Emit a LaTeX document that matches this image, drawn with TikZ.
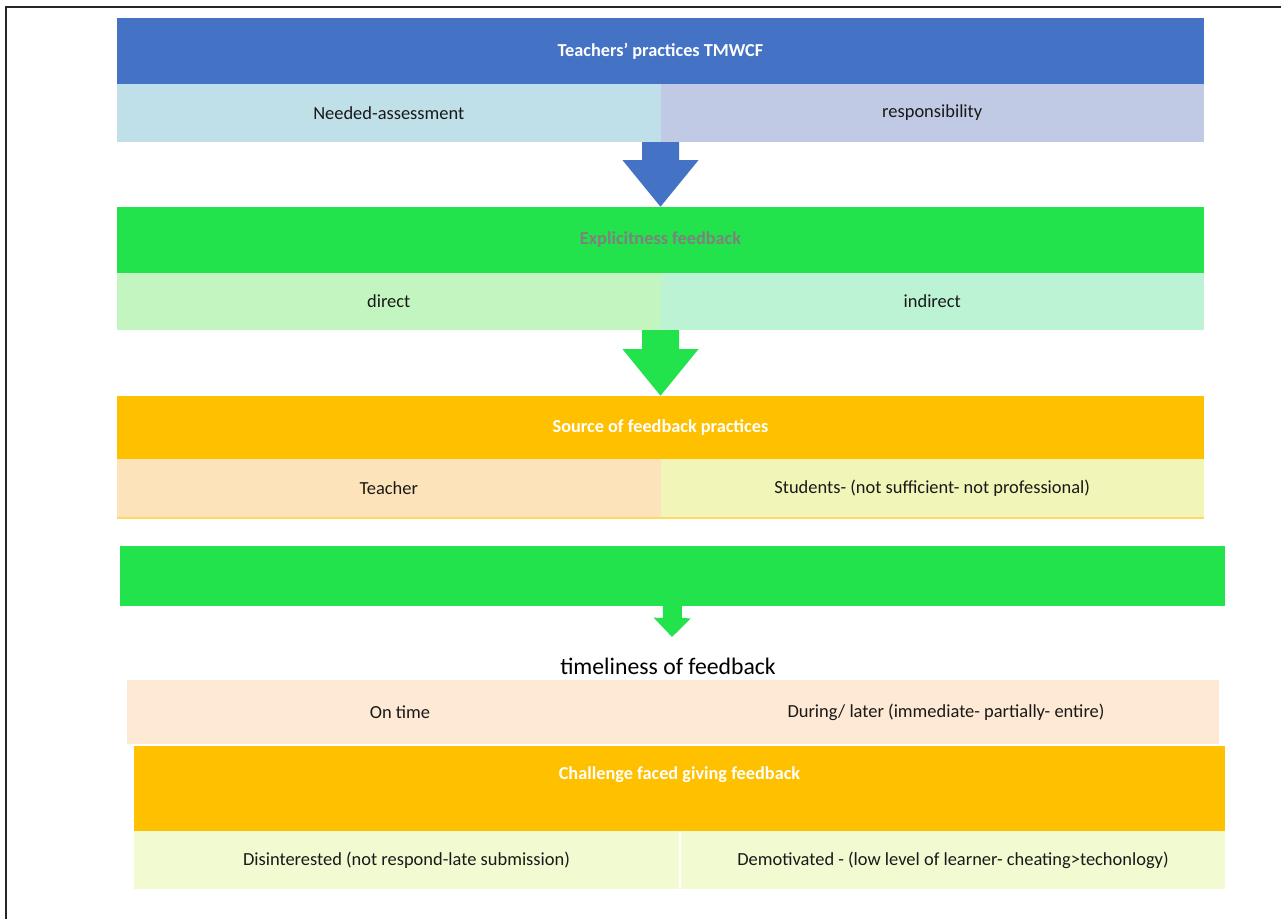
\documentclass[tikz,border=0pt]{standalone}
\usepackage{fontspec}
\setmainfont{Carlito}
\usepackage{xcolor}
\usetikzlibrary{arrows.meta,positioning}

\definecolor{hdrblue}{HTML}{4472C4}
\definecolor{hdrgreen}{HTML}{22E34B}
\definecolor{hdrorange}{HTML}{FFC000}
\definecolor{cellblueA}{HTML}{BFDFE9}
\definecolor{cellblueB}{HTML}{C1CAE4}
\definecolor{cellgreenA}{HTML}{C3F5C0}
\definecolor{cellgreenB}{HTML}{BCF3D4}
\definecolor{cellpeach}{HTML}{FDE3B9}
\definecolor{cellyellow}{HTML}{F2F5B8}
\definecolor{celltime}{HTML}{FEE9D4}
\definecolor{cellcream}{HTML}{F2FAD1}
\definecolor{linegold}{HTML}{FFD966}

\newlength\pxu
\setlength\pxu{0.02cm}

\begin{document}
\begin{tikzpicture}[x=\pxu, y=-\pxu,
baseshape/.style={rectangle, inner sep=0pt, outer sep=0pt, text centered},
header/.style={baseshape, minimum width=1087\pxu, minimum height=66\pxu, font=\bfseries\fontsize{10.4}{12}\selectfont, text=white},
cell/.style={baseshape, minimum width=543.5\pxu, minimum height=58\pxu, font=\fontsize{10.5}{12}\selectfont, text=black!90},
bigarrow/.style={line width=37\pxu, -{Triangle[width=1.46cm, length=0.94cm]}},
]
\useasboundingbox (0,0) rectangle (1281,919);

% frame
\draw[line width=1.6\pxu, black!85] (6,919) -- (6,7) -- (1281,7);

% block 1
\node (hdr1) [header, fill=hdrblue, anchor=north west] at (117,18) {Teachers’ practices TMWCF};
\node (needs) [cell, fill=cellblueA, below=0pt of hdr1.south west, anchor=north west] {Needed-assessment};
\node (resp) [cell, fill=cellblueB, right=0pt of needs] {responsibility};

% block 2
\node (hdr2) [header, fill=hdrgreen, text=black!50, anchor=north west] at (117,207) {Explicitness feedback};
\node (direct) [cell, fill=cellgreenA, minimum height=57\pxu, below=0pt of hdr2.south west, anchor=north west] {direct};
\node (indirect) [cell, fill=cellgreenB, minimum height=57\pxu, right=0pt of direct] {indirect};

% block 3
\node (hdr3) [header, fill=hdrorange, minimum height=63\pxu, anchor=north west] at (117,396) {Source of feedback practices};
\node (teacher) [cell, fill=cellpeach, minimum height=59\pxu, below=0pt of hdr3.south west, anchor=north west] {Teacher};
\node (students) [cell, fill=cellyellow, minimum height=59\pxu, right=0pt of teacher] {Students- (not sufficient- not professional)};
\draw[linegold, line width=1.5\pxu] (teacher.south west) -- (students.south east);

% block 4
\node (bar) [baseshape, fill=hdrgreen, minimum width=1105\pxu, minimum height=60\pxu, anchor=north west] at (120,546) {};
\coordinate (tip4) at (672,637);
\node (timely) [baseshape, font=\fontsize{13.5}{16}\selectfont] at (668,666) {timeliness of feedback};
\node (ontime) [cell, fill=celltime, minimum width=546\pxu, minimum height=64\pxu, anchor=north west] at (127,680) {On time};
\node (later) [cell, fill=celltime, minimum width=546\pxu, minimum height=64\pxu, right=0pt of ontime] {During/ later (immediate- partially- entire)};

% block 5
\node (hdr5) [header, fill=hdrorange, minimum width=1091\pxu, minimum height=85\pxu, anchor=north west,
  label={[font=\bfseries\fontsize{10.4}{12}\selectfont, text=white, anchor=north, yshift=-14\pxu]north:Challenge faced giving feedback}] at (134,746) {};
\node (disint) [cell, fill=cellcream, minimum width=545\pxu, below=0pt of hdr5.south west, anchor=north west] {Disinterested (not respond-late submission)};
\node (demot) [cell, fill=cellcream, minimum width=544\pxu, right=2\pxu of disint] {Demotivated - (low level of learner- cheating>techonlogy)};

% arrows
\draw[bigarrow, hdrblue] (needs.south east) -- (hdr2.north);
\draw[bigarrow, hdrgreen] (direct.south east) -- (hdr3.north);
\draw[hdrgreen, line width=19\pxu, -{Triangle[width=0.72cm, length=0.38cm]}] (bar.south) -- (tip4);

\end{tikzpicture}
\end{document}
